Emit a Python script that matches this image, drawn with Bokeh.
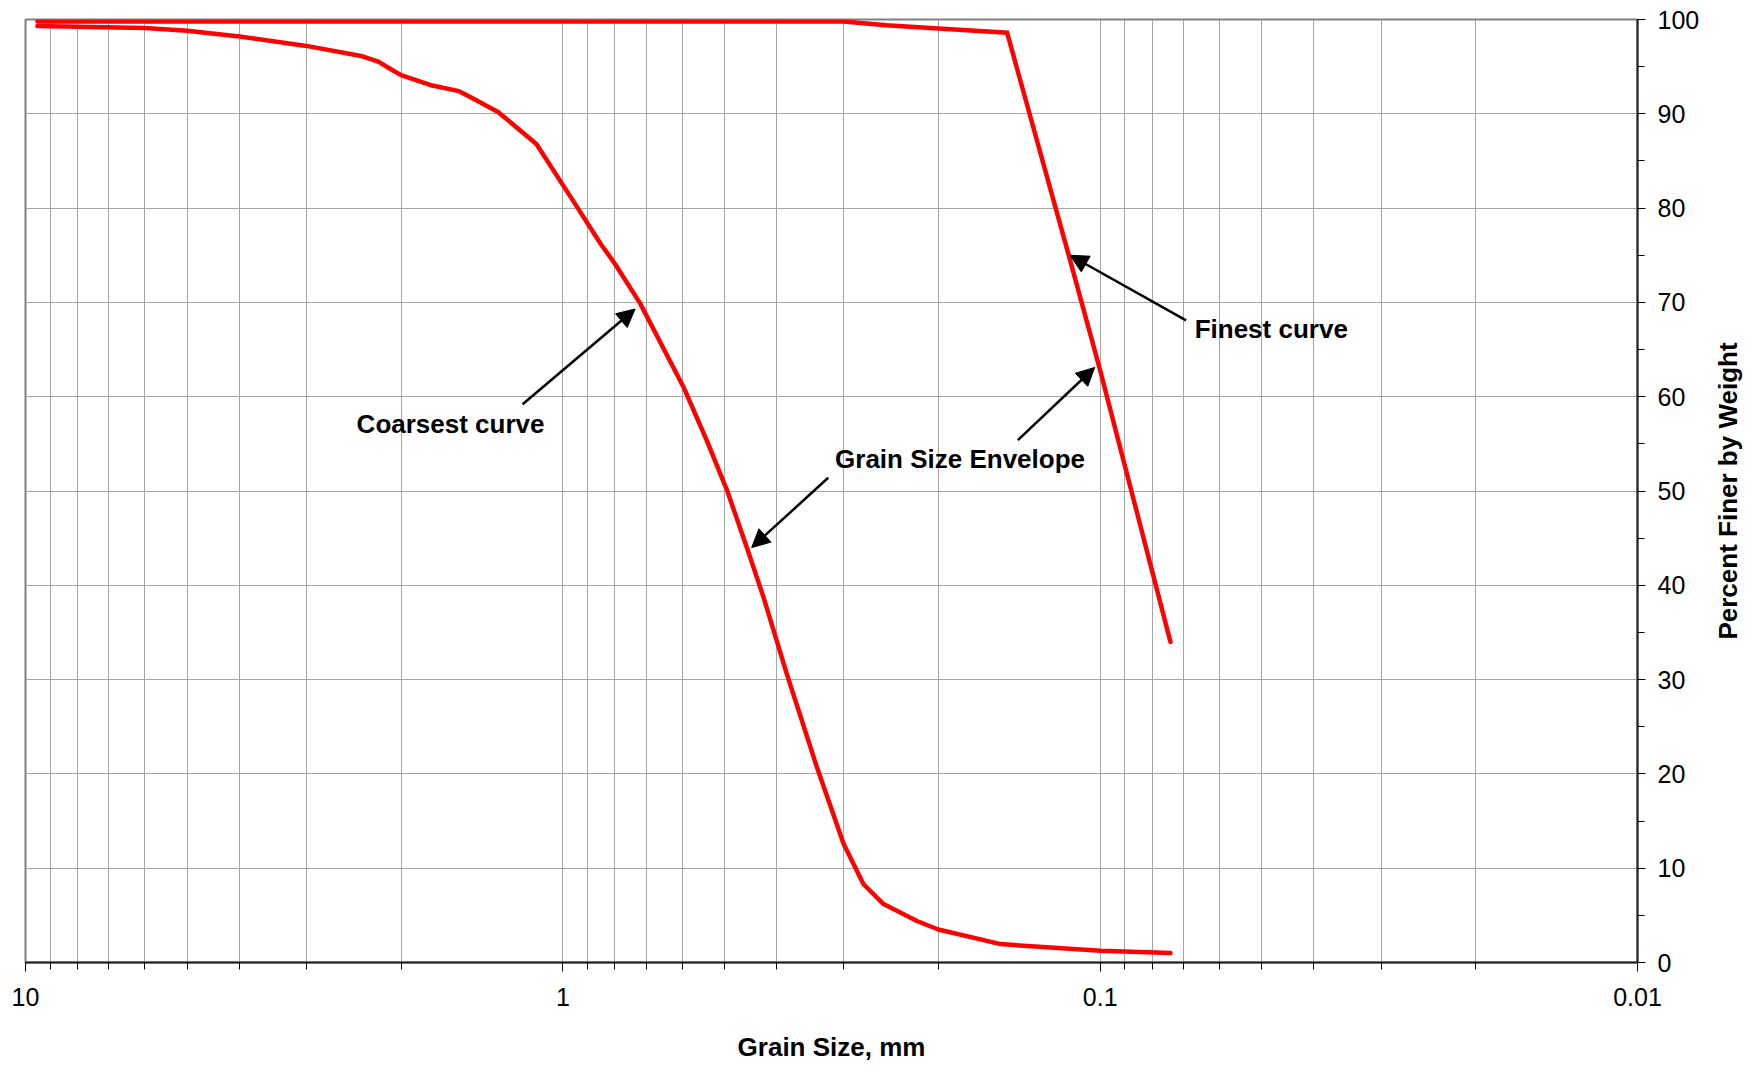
import math
from bokeh.plotting import figure
from bokeh.layouts import row
from bokeh.models import (Range1d, FixedTicker, SingleIntervalTicker, Arrow, NormalHead,
                          Label, CustomJSTickFormatter)
from bokeh.embed import file_html
from bokeh.resources import INLINE

# ---- data ----
coarse_size = [9.5, 6.0, 5.0, 4.0, 3.0, 2.36, 2.2, 2.1, 2.0, 1.75, 1.56, 1.49, 1.32,
               1.12, 0.96, 0.85, 0.8, 0.718, 0.596, 0.54, 0.495, 0.4545, 0.423, 0.383,
               0.3366, 0.3003, 0.2757, 0.253, 0.2193, 0.2, 0.1532, 0.0998, 0.074]
coarse_pct = [99.3, 99.1, 98.8, 98.2, 97.2, 96.1, 95.5, 94.8, 94.1, 93.0, 92.4, 91.8, 90.2,
              86.8, 80.9, 76.2, 74.1, 69.9, 61.0, 55.4, 50.1, 44.0, 38.7, 30.6,
              20.7, 12.6, 8.3, 6.2, 4.4, 3.5, 1.95, 1.24, 1.0]

fine_size = [9.5, 0.3, 0.25, 0.2, 0.149, 0.1143, 0.1, 0.074]
fine_pct = [99.8, 99.8, 99.4, 99.05, 98.6, 74.9, 62.8, 34.0]

x_major_ticks = [10, 1, 0.1, 0.01]
x_tick_labels = ["10", "1", "0.1", "0.01"]

x_title = "Grain Size, mm"
y_title = "Percent Finer by Weight"

# annotation texts and arrows (data coordinates: size mm, percent)
notes_text = ["Coarsest curve", "Finest curve", "Grain Size Envelope"]
notes_x = [1.618, 0.0667, 0.1823]
notes_y = [57.1, 67.2, 53.4]
notes_align = ["center", "left", "center"]

arrow_x0 = [1.188, 0.0692, 0.1423, 0.3207]
arrow_y0 = [59.2, 68.1, 55.4, 51.4]
arrow_x1 = [0.7336, 0.1138, 0.1024, 0.4452]
arrow_y1 = [69.3, 75.0, 63.1, 44.0]

FONT = "Liberation Sans"
H = 1064
TOP, BOTTOM = 19, 102

p = figure(width=1702, height=H, x_axis_type="log",
           x_range=Range1d(10, 0.01), y_range=Range1d(0, 100),
           y_axis_location="right", output_backend="svg", toolbar_location=None,
           min_border_left=25, min_border_top=TOP, min_border_right=65,
           min_border_bottom=BOTTOM)

p.background_fill_color = "white"
p.border_fill_color = "white"
p.outline_line_color = "#808080"
p.outline_line_width = 2

minor = []
for e in [-2, -1, 0]:
    for k in range(2, 10):
        minor.append(k * 10 ** e)

xax = p.xaxis[0]
xax.ticker = FixedTicker(ticks=x_major_ticks, minor_ticks=minor)
xax.formatter = CustomJSTickFormatter(
    args=dict(majors=x_major_ticks, labs=x_tick_labels),
    code="""
    for (let i = 0; i < majors.length; i++) {
        if (Math.abs(Math.log10(tick) - Math.log10(majors[i])) < 1e-6) return labs[i];
    }
    return '';
    """)
xax.axis_label = x_title
xax.axis_label_text_font = FONT
xax.axis_label_text_font_style = "bold"
xax.axis_label_text_font_size = "26px"
xax.axis_label_text_color = "black"
xax.axis_label_standoff = 23
xax.major_label_text_font = FONT
xax.major_label_text_font_size = "25px"
xax.major_label_text_color = "black"
xax.major_label_standoff = 16
xax.axis_line_color = "#222222"
xax.axis_line_width = 2
xax.major_tick_in = 0
xax.major_tick_out = 9
xax.minor_tick_in = 0
xax.minor_tick_out = 7
xax.major_tick_line_color = "black"
xax.minor_tick_line_color = "black"

yax = p.yaxis[0]
yax.ticker = SingleIntervalTicker(interval=10, num_minor_ticks=2)
yax.major_label_text_font = FONT
yax.major_label_text_font_size = "25px"
yax.major_label_text_color = "black"
yax.major_label_standoff = 12
yax.axis_line_color = "#222222"
yax.axis_line_width = 2
yax.major_tick_in = 0
yax.major_tick_out = 8
yax.minor_tick_in = 0
yax.minor_tick_out = 7
yax.major_tick_line_color = "black"
yax.minor_tick_line_color = "black"

p.xgrid.grid_line_color = "#a6a6a6"
p.xgrid.grid_line_width = 1
p.xgrid.minor_grid_line_color = "#a6a6a6"
p.xgrid.minor_grid_line_width = 1
p.ygrid.grid_line_color = "#a6a6a6"
p.ygrid.grid_line_width = 1

p.line(coarse_size, coarse_pct, line_color="#ff0000", line_width=4.5, line_join="round",
       line_cap="round")
p.line(fine_size, fine_pct, line_color="#ff0000", line_width=4.5, line_join="miter",
       line_cap="round")

for x0, y0, x1, y1 in zip(arrow_x0, arrow_y0, arrow_x1, arrow_y1):
    p.add_layout(Arrow(x_start=x0, y_start=y0, x_end=x1, y_end=y1,
                       line_color="black", line_width=2.5,
                       end=NormalHead(size=18, fill_color="black", line_color="black",
                                      line_width=1)))

for t, x, y, a in zip(notes_text, notes_x, notes_y, notes_align):
    p.add_layout(Label(x=x, y=y, text=t, text_align=a, text_baseline="middle",
                       text_font=FONT, text_font_style="bold", text_font_size="26px",
                       text_color="black"))

# narrow side panel holding the y-axis title (reads bottom-to-top)
q = figure(width=48, height=H, x_range=Range1d(0, 1), y_range=Range1d(0, 100),
           output_backend="svg", toolbar_location=None,
           min_border_left=0, min_border_right=0, min_border_top=TOP,
           min_border_bottom=BOTTOM)
q.axis.visible = False
q.grid.visible = False
q.outline_line_color = None
q.background_fill_color = "white"
q.border_fill_color = "white"
q.add_layout(Label(x=0.54, y=50, text=y_title, angle=math.pi / 2,
                   text_align="center", text_baseline="middle", text_font=FONT,
                   text_font_style="bold", text_font_size="26px", text_color="black"))

layout = row(p, q)
open("out.html", "w").write(file_html(layout, INLINE))
